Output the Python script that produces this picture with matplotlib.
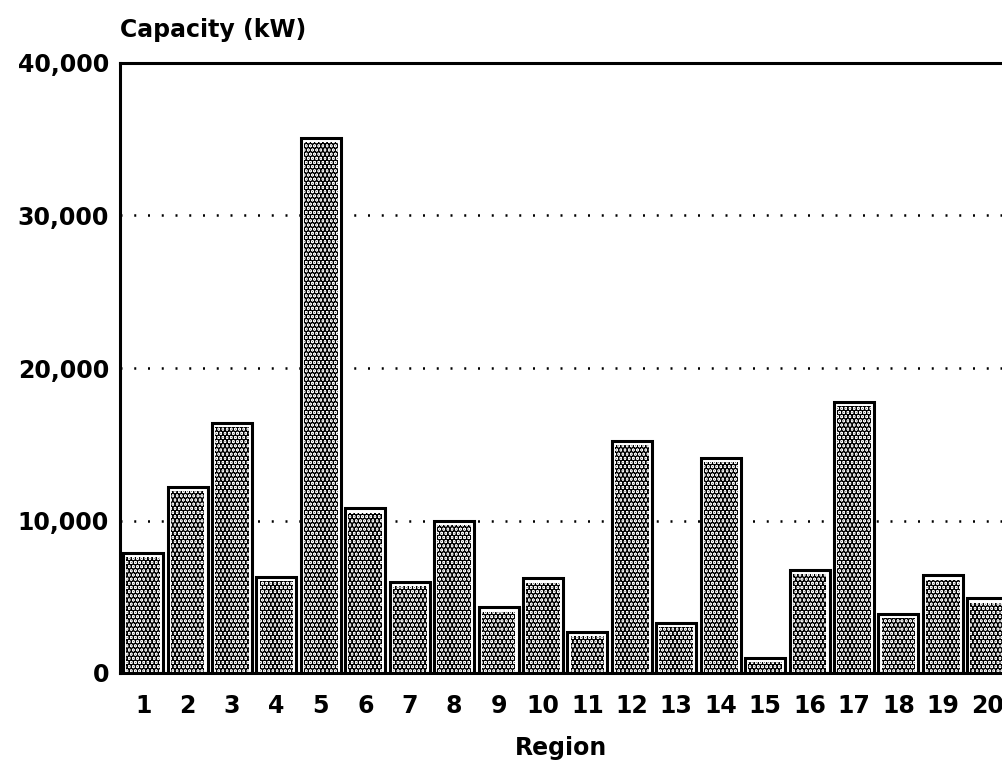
import numpy as np
import matplotlib
matplotlib.use("Agg")
import matplotlib.pyplot as plt

# values (kW)
regions = [str(i) for i in range(1, 21)]
capacity = [7900, 12200, 16400, 6300, 35100, 10800, 6000, 10000, 4300, 6200,
            2700, 15200, 3300, 14100, 1000, 6750, 17800, 3900, 6400, 4900]
yticks = [0, 10000, 20000, 30000, 40000]
ytick_labels = ["0", "10,000", "20,000", "30,000", "40,000"]

plt.rcParams['font.family'] = ['DejaVu Sans']
plt.rcParams['font.weight'] = 'bold'
plt.rcParams['hatch.linewidth'] = 3.2

fig = plt.figure(figsize=(10.02, 7.70), dpi=100)
ax = fig.add_axes([120 / 1002, 1 - 673 / 770, 1 - 120 / 1002, (673 - 63) / 770])

x = np.arange(1, len(regions) + 1)
inner = [v - 280 for v in capacity]
# outer frame of each bar, then the stippled core inset a little
ax.bar(x, capacity, width=0.9, facecolor='white', edgecolor='black',
       linewidth=2.2, zorder=3)
ax.bar(x, inner, width=0.76, facecolor='white', edgecolor='black',
       linewidth=0, hatch='....', zorder=4)

ax.set_xlim(0.48, 20.33)
ax.set_ylim(0, 40000)
ax.set_xticks(x)
ax.set_xticklabels(regions)
ax.set_yticks(yticks)
ax.set_yticklabels(ytick_labels)
ax.tick_params(axis='both', length=0, labelsize=17)
ax.tick_params(axis='x', pad=15)
ax.tick_params(axis='y', pad=8)

for y in yticks[1:4]:
    ax.axhline(y, color='black', linewidth=1.8, linestyle=(0, (0.8, 4.7)), zorder=1)

for side in ['left', 'top', 'bottom']:
    ax.spines[side].set_linewidth(2.2)
    ax.spines[side].set_zorder(5)
ax.spines['right'].set_visible(False)

ax.set_xlabel('Region', fontsize=17, fontweight='bold', labelpad=13)
fig.text(120 / 1002, 1 - 30 / 770, 'Capacity (kW)', fontsize=17,
         fontweight='bold', ha='left', va='center')

fig.savefig('out.png', dpi=100)
